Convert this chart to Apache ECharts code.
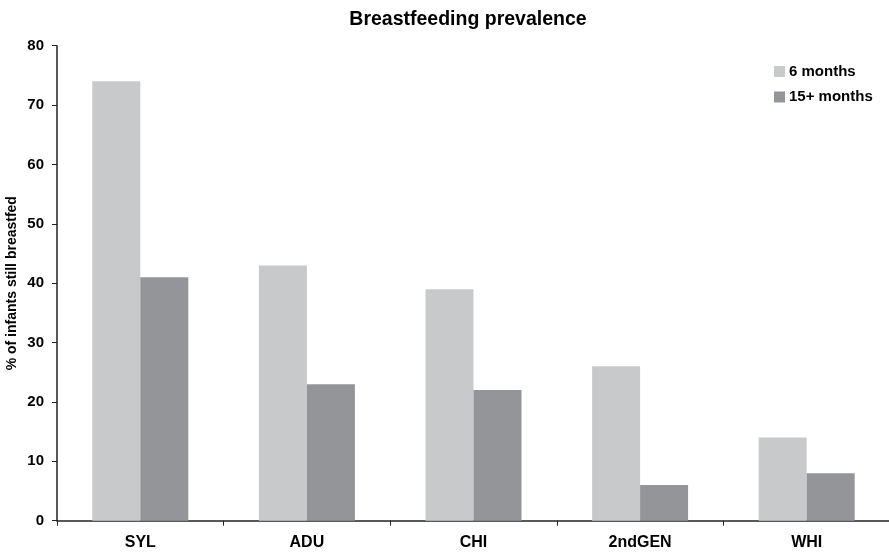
<!DOCTYPE html>
<html><head><meta charset="utf-8">
<script src="https://cdn.jsdelivr.net/npm/echarts@6/dist/echarts.min.js"></script>
<style>html,body{margin:0;padding:0;background:#fff}#c{width:889px;height:554px}</style>
</head><body><div id="c"></div>
<script>
var categories = ['SYL', 'ADU', 'CHI', '2ndGEN', 'WHI'];
var sixMonths = [74, 43, 39, 26, 14];
var fifteenMonths = [41, 23, 22, 6, 8];
var seriesNames = ['6 months', '15+ months'];
var yTicks = {min: 0, max: 80, interval: 10};

var font = '"Liberation Sans", Arial, sans-serif';
var chart = echarts.init(document.getElementById('c'));
chart.setOption({
  animation: false,
  backgroundColor: '#fff',
  title: {
    text: 'Breastfeeding prevalence',
    left: 463, textAlign: 'center', top: 5,
    textStyle: {fontFamily: font, fontWeight: 'bold', fontSize: 19.5, color: '#000'}
  },
  legend: {
    orient: 'vertical', left: 769, top: 59,
    itemWidth: 11, itemHeight: 11, itemGap: 10.5,
    icon: 'rect',
    textStyle: {fontFamily: font, fontWeight: 'bold', fontSize: 15, color: '#000', padding: [0, 0, 0, -1]},
    data: seriesNames
  },
  grid: {left: 57, right: -1, top: 45.7, bottom: 33.3, containLabel: false, outerBoundsMode: 'none'},
  xAxis: {
    type: 'category', data: categories,
    axisLine: {lineStyle: {color: '#222', width: 1.5}},
    axisTick: {show: true, length: 5, lineStyle: {color: '#222'}},
    axisLabel: {fontFamily: font, fontWeight: 'bold', fontSize: 16, color: '#000', margin: 14}
  },
  yAxis: {
    type: 'value', min: yTicks.min, max: yTicks.max, interval: yTicks.interval,
    name: '% of infants still breastfed', nameLocation: 'middle', nameGap: 38, nameRotate: 90,
    nameMoveOverlap: false,
    nameTextStyle: {fontFamily: font, fontWeight: 'bold', fontSize: 14, color: '#000'},
    axisLine: {show: true, lineStyle: {color: '#222', width: 1.5}},
    axisTick: {show: true, length: 5, lineStyle: {color: '#222'}},
    splitLine: {show: false},
    axisLabel: {fontFamily: font, fontWeight: 'bold', fontSize: 15, color: '#000', margin: 13}
  },
  series: [
    {name: seriesNames[0], type: 'bar', data: sixMonths, barWidth: 48, barGap: '0%',
     itemStyle: {color: '#c8c9cb'}},
    {name: seriesNames[1], type: 'bar', data: fifteenMonths, barWidth: 48, barGap: '0%',
     itemStyle: {color: '#939598'}}
  ]
});
</script></body></html>
